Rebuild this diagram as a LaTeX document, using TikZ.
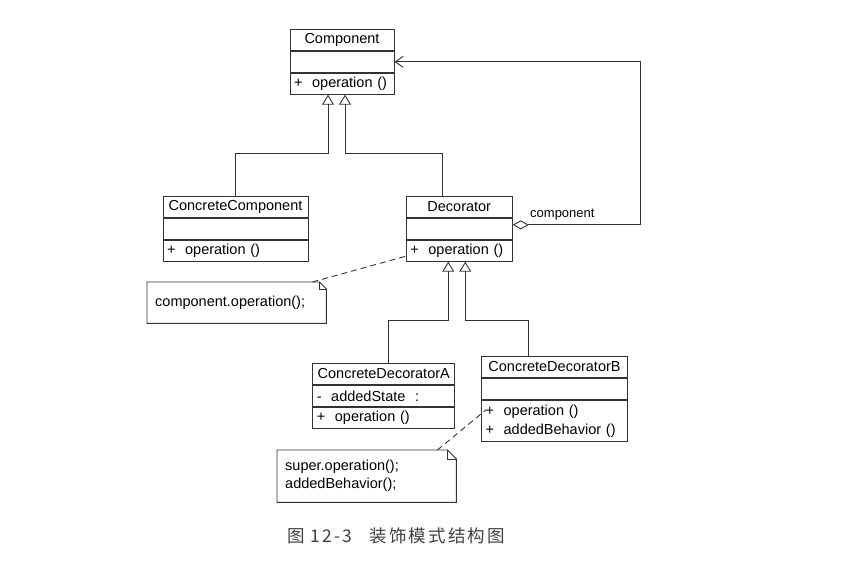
\documentclass[tikz,border=0pt]{standalone}
\usepackage{fontspec}
\usepackage{tikz}
\usetikzlibrary{calc,arrows.meta,positioning}
\newfontfamily\umlfont{Liberation Sans}
\newfontfamily\cjkfont[LetterSpace=12]{Noto Sans CJK SC}
\definecolor{linegrey}{gray}{0.2}
\tikzset{classtitle/.style={draw=linegrey,line width=.9pt,text width=#1,align=center,inner xsep=4pt,inner ysep=0pt,minimum height=21pt,anchor=north},
classpart/.style={classtitle=#1,align=left}}

\begin{document}
\begin{tikzpicture}[x=1pt,y=-1pt,font=\umlfont\fontsize{14.5}{19}\selectfont]

\tikzset{gen/.style={draw=linegrey,line width=.9pt,-{Triangle[open,length=10pt,width=12pt]}},
agg/.style={draw=linegrey,line width=.9pt,{Diamond[open,length=16pt,width=9pt]}-{Straight Barb[length=8pt,width=11pt]}},
notelink/.style={draw=linegrey,line width=.9pt,dash pattern=on 6pt off 4pt},
noteline/.style={draw=linegrey,line width=.9pt},
notebox/.style={inner xsep=8pt,inner ysep=0pt,anchor=north west,align=left}}

\useasboundingbox (0,0) rectangle (857,569);

% Component
\node[classtitle=96] (comp) at (342,29) {Component};
\node[classpart=96,below=0pt of comp] (compAttr) {};
\node[classpart=96,below=0pt of compAttr] (compOps) {+\ \ operation ()};

% ConcreteComponent and Decorator
\node[classtitle=137] (cc) at (235.5,196) {ConcreteComponent};
\node[classpart=137,below=0pt of cc] (ccAttr) {};
\node[classpart=137,below=0pt of ccAttr] (ccOps) {+\ \ operation ()};
\node[classtitle=98] (dec) at (459.25,196) {Decorator};
\node[classpart=98,below=0pt of dec] (decAttr) {};
\node[classpart=98,below=0pt of decAttr] (decOps) {+\ \ operation ()};

% Concrete decorators
\node[classtitle=134] (cda) at (383.75,363) {ConcreteDecoratorA};
\node[classpart=134,below=0pt of cda] (cdaAttr) {-\ \ addedState\ \ :};
\node[classpart=134,below=0pt of cdaAttr] (cdaOps) {+\ \ operation ()};
\node[classtitle=138] (cdb) at (554.5,356) {ConcreteDecoratorB};
\node[classpart=138,below=0pt of cdb] (cdbAttr) {};
\node[classpart=138,below=0pt of cdbAttr,minimum height=41pt] (cdbOps) {+\ \ operation ()\\+\ \ addedBehavior ()};

% Generalizations
\draw[gen] (cc.north) -- ++(0,-43) -| ([xshift=-14pt]compOps.south);
\draw[gen] ([xshift=-17pt]dec.north) -- ++(0,-43) -| ([xshift=3pt]compOps.south);
\draw[gen] ([xshift=5pt]cda.north) -- ++(0,-43) -| ([xshift=-11pt]decOps.south);
\draw[gen] ([xshift=-26pt]cdb.north) -- ++(0,-36) -| ([xshift=6pt]decOps.south);

% Aggregation
\draw[agg] ([yshift=4pt]decAttr.east) -- ++(128,0) |- (compAttr.east);
\node[anchor=base west,inner sep=0pt,font=\umlfont\fontsize{13}{15}\selectfont] (aggLabel) at (530,218) {component};

% Notes
\node[notebox,text width=163pt,minimum height=41pt] (note1) at (147,282) {component.operation();};
\draw[noteline] (note1.north west) -- ([xshift=-7pt]note1.north east) -- ([yshift=-7pt]note1.north east) -- (note1.south east) -- (note1.south west) -- cycle;
\draw[noteline] ([xshift=-7pt]note1.north east) -- ([xshift=-7pt,yshift=-7pt]note1.north east) -- ([yshift=-7pt]note1.north east);
\draw[notelink] ([xshift=-14pt]note1.north east) -- ($(decOps.west)!0.5!(decOps.south west)$);

\node[notebox,text width=163pt,minimum height=52pt,font=\umlfont\fontsize{14.5}{18}\selectfont] (note2) at (277,450) {super.operation();\\addedBehavior();};
\draw[noteline] (note2.north west) -- ([xshift=-9pt]note2.north east) -- ([yshift=-9pt]note2.north east) -- (note2.south east) -- (note2.south west) -- cycle;
\draw[noteline] ([xshift=-9pt]note2.north east) -- ([xshift=-9pt,yshift=-9pt]note2.north east) -- ([yshift=-9pt]note2.north east);
\draw[notelink] ([xshift=-19pt]note2.north east) -- ([xshift=5pt,yshift=-10pt]cdbOps.north west);

% Caption
\node[anchor=west,inner sep=0pt,font=\cjkfont\fontsize{17.5}{20}\selectfont,text=black!75] (caption) at (287,536) {图 12-3\quad 装饰模式结构图};

\end{tikzpicture}
\end{document}
